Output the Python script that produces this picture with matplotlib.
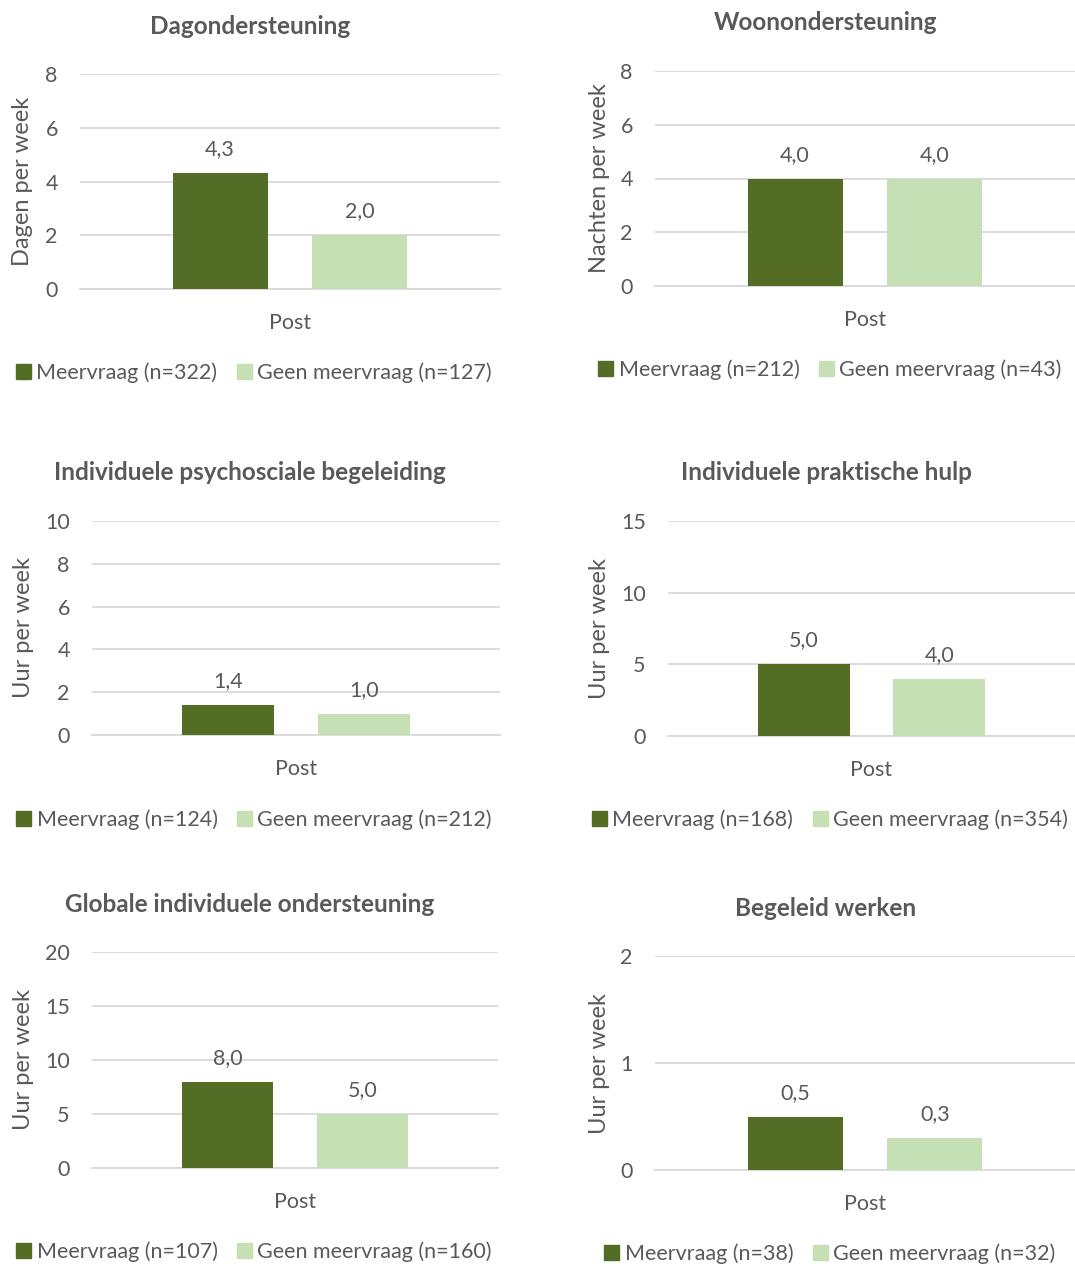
import matplotlib.pyplot as plt
from matplotlib.patches import Patch

plt.rcParams['font.family'] = ['Lato', 'DejaVu Sans']

# data per panel
titles = ['Dagondersteuning', 'Woonondersteuning',
          'Individuele psychosciale begeleiding', 'Individuele praktische hulp',
          'Globale individuele ondersteuning', 'Begeleid werken']
ylabels = ['Dagen per week', 'Nachten per week', 'Uur per week',
           'Uur per week', 'Uur per week', 'Uur per week']
meervraag = [4.3, 4.0, 1.4, 5.0, 8.0, 0.5]
geen_meervraag = [2.0, 4.0, 1.0, 4.0, 5.0, 0.3]
n_meer = [322, 212, 124, 168, 107, 38]
n_geen = [127, 43, 212, 354, 160, 32]
ymax = [8, 8, 10, 15, 20, 2]
ystep = [2, 2, 2, 5, 5, 1]
category = 'Post'

DARK = '#546D25'
LIGHT = '#C5E0B4'
GRID = '#D9D9D9'
TXT = '#595959'

W, H = 1075, 1268
fig = plt.figure(figsize=(W / 100, H / 100), dpi=100)

# pixel boxes: left, right, top (ymax), bottom (0)
boxes = [(80, 500, 74, 289), (655, 1075, 71, 286),
         (92, 500, 521, 735), (668, 1075, 521, 736),
         (92, 498, 952, 1168), (655, 1075, 956, 1170)]
title_pos = [(250, 27), (826, 22), (250, 473), (826, 473), (250, 905), (826, 908)]
ylab_x = [23, 599, 23, 599, 23, 599]
leg_pos = [(254, 373), (830, 370), (254, 820), (830, 820), (254, 1252), (830, 1254)]

bw = 0.226
off = 0.1665
fs = 15.5

for i in range(6):
    l, r, t, b = boxes[i]
    ax = fig.add_axes([l / W, 1 - b / H, (r - l) / W, (b - t) / H])
    ax.set_xlim(-0.5, 0.5)
    ax.set_ylim(0, ymax[i])
    ax.set_yticks(range(0, ymax[i] + 1, ystep[i]))
    ax.yaxis.grid(True, color=GRID, linewidth=1.3)
    ax.set_axisbelow(True)
    for s in ['top', 'right', 'left']:
        ax.spines[s].set_visible(False)
    ax.spines['bottom'].set_color(GRID)
    ax.spines['bottom'].set_linewidth(1.3)
    ax.tick_params(axis='y', length=0, pad=16, labelsize=fs, labelcolor=TXT)
    ax.set_xticks([0])
    ax.set_xticklabels([category])
    ax.tick_params(axis='x', length=0, pad=17, labelsize=fs, labelcolor=TXT)

    vals = [meervraag[i], geen_meervraag[i]]
    bars = ax.bar([-off, off], vals, width=bw, color=[DARK, LIGHT], zorder=3)
    for bar, v in zip(bars, vals):
        ax.annotate(f'{v:.1f}'.replace('.', ','),
                    (bar.get_x() + bar.get_width() / 2, v),
                    xytext=(0, 10), textcoords='offset points',
                    ha='center', va='bottom', fontsize=fs, color=TXT)

    tx, ty = title_pos[i]
    fig.text(tx / W, 1 - ty / H, titles[i], ha='center', va='center',
             fontsize=17.5, fontweight='bold', color=TXT)
    fig.text(ylab_x[i] / W, 1 - (t + b) / 2 / H, ylabels[i], rotation=90,
             ha='center', va='center', fontsize=17, color=TXT)

    handles = [Patch(color=DARK, label=f'Meervraag (n={n_meer[i]})'),
               Patch(color=LIGHT, label=f'Geen meervraag (n={n_geen[i]})')]
    lx, ly = leg_pos[i]
    fig.legend(handles=handles, loc='center', bbox_to_anchor=(lx / W, 1 - ly / H),
               ncol=2, frameon=False, fontsize=fs, labelcolor=TXT,
               handlelength=0.7, handleheight=0.7, handletextpad=0.25,
               columnspacing=0.9, borderaxespad=0)

fig.savefig('out.png', dpi=100, facecolor='white')
